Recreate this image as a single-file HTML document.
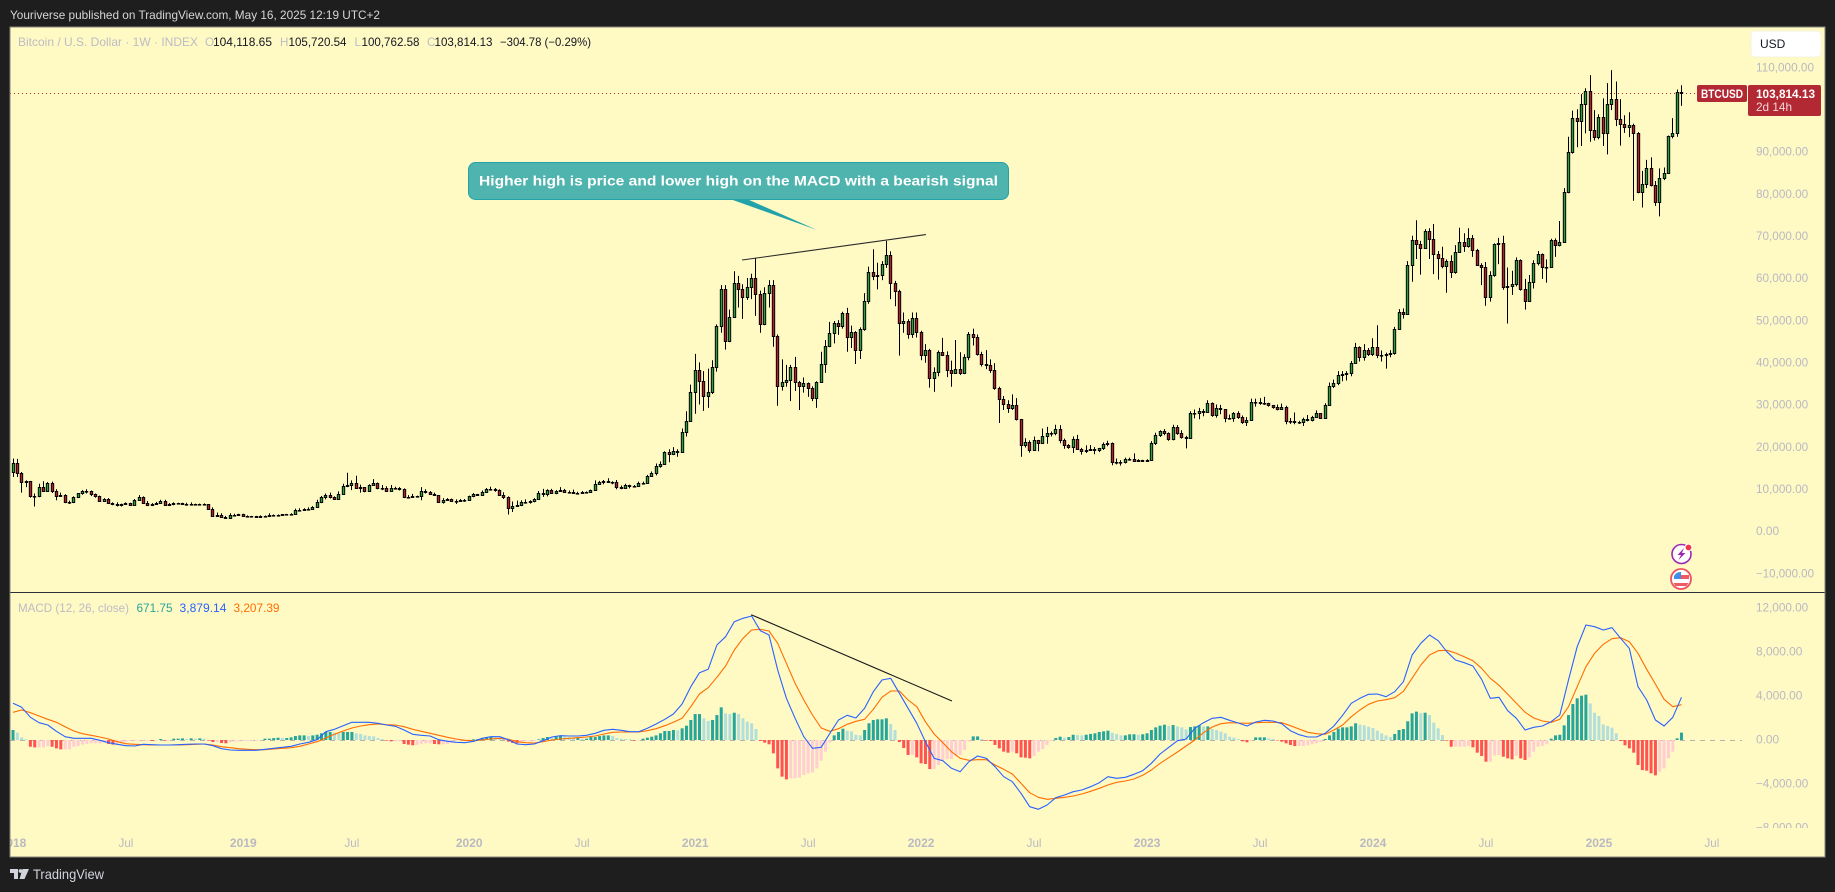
<!DOCTYPE html>
<html lang="en">
<head>
<meta charset="utf-8">
<title>BTCUSD weekly chart with MACD</title>
<style>
html,body{margin:0;padding:0;background:#1e1e1e;width:1835px;height:892px;overflow:hidden}
svg{display:block}
text{font-family:"Liberation Sans",Arial,sans-serif}
</style>
</head>
<body>
<svg id="chart" xmlns="http://www.w3.org/2000/svg" width="1835" height="892" viewBox="0 0 1835 892">
  <defs>
    <clipPath id="main-clip"><rect x="10" y="28" width="1814" height="564"/></clipPath>
    <clipPath id="macd-clip"><rect x="10" y="593" width="1814" height="235"/></clipPath>
    <clipPath id="time-clip"><rect x="10" y="828" width="1814" height="28"/></clipPath>
  </defs>
  <rect x="0" y="0" width="1835" height="892" fill="#1e1e1e"/>
  <text x="10" y="19" font-size="11.6" fill="#d6d6d6" textLength="370" lengthAdjust="spacingAndGlyphs">Youriverse published on TradingView.com, May 16, 2025 12:19 UTC+2</text>
  <rect x="10" y="27" width="1815" height="830" fill="#fff9c4"/>
  <g id="grid-layer"></g>
  <g id="macd-layer" clip-path="url(#macd-clip)"></g>
  <line x1="10" x2="1697" y1="93.5" y2="93.5" stroke="#b22833" stroke-width="1" stroke-dasharray="1 3"/>
  <g id="candle-layer" clip-path="url(#main-clip)"></g>
  <line x1="10" x2="1825" y1="592.5" y2="592.5" stroke="#2a2e39" stroke-width="1"/>
  <rect x="10" y="27" width="1815" height="830" fill="none" stroke="#85857a" stroke-width="1"/>

  <g font-size="11.6">
    <text x="18" y="46" fill="#bcbcc4" textLength="180" lengthAdjust="spacingAndGlyphs">Bitcoin / U.S. Dollar · 1W · INDEX</text>
    <text x="205" y="46" fill="#bcbcc4">O</text>
    <text x="213" y="46" fill="#131722" textLength="59" lengthAdjust="spacingAndGlyphs">104,118.65</text>
    <text x="280" y="46" fill="#bcbcc4">H</text>
    <text x="288.5" y="46" fill="#131722" textLength="58" lengthAdjust="spacingAndGlyphs">105,720.54</text>
    <text x="354.5" y="46" fill="#bcbcc4">L</text>
    <text x="361.5" y="46" fill="#131722" textLength="58" lengthAdjust="spacingAndGlyphs">100,762.58</text>
    <text x="427" y="46" fill="#bcbcc4">C</text>
    <text x="434.5" y="46" fill="#131722" textLength="58" lengthAdjust="spacingAndGlyphs">103,814.13</text>
    <text x="500" y="46" fill="#131722" textLength="91" lengthAdjust="spacingAndGlyphs">−304.78 (−0.29%)</text>
  </g>
  <g font-size="11.6">
    <text x="18" y="612" fill="#bcbcc4" textLength="111" lengthAdjust="spacingAndGlyphs">MACD (12, 26, close)</text>
    <text x="136.5" y="612" fill="#26a69a" textLength="36" lengthAdjust="spacingAndGlyphs">671.75</text>
    <text x="179.5" y="612" fill="#2962ff" textLength="47" lengthAdjust="spacingAndGlyphs">3,879.14</text>
    <text x="233.5" y="612" fill="#ff6d00" textLength="46" lengthAdjust="spacingAndGlyphs">3,207.39</text>
  </g>

  <g>
    <rect x="1751" y="31" width="70" height="26" rx="4" fill="#ffffff" stroke="#f5f3dc"/>
    <text x="1760" y="48" font-size="12" fill="#131722">USD</text>
  </g>
  <g>
    <rect x="1697" y="85" width="50" height="17" rx="2" fill="#b22833"/>
    <text x="1701" y="98" font-size="11.6" font-weight="700" fill="#ffffff" textLength="42" lengthAdjust="spacingAndGlyphs">BTCUSD</text>
    <rect x="1748" y="85" width="73" height="31" rx="2" fill="#b22833"/>
    <text x="1756" y="98" font-size="11.6" font-weight="700" fill="#ffffff" textLength="59" lengthAdjust="spacingAndGlyphs">103,814.13</text>
    <text x="1756" y="111" font-size="11.6" fill="#f4d6d8" textLength="36" lengthAdjust="spacingAndGlyphs">2d 14h</text>
  </g>

  <g>
    <polygon points="730,199 747,199 817,230" fill="#22a3a9"/>
    <rect x="468.5" y="162.5" width="540" height="37" rx="7" fill="#4fb3ae" stroke="#22a3a9"/>
    <text x="479" y="185.5" font-size="14" font-weight="700" fill="#ffffff" textLength="519" lengthAdjust="spacingAndGlyphs">Higher high is price and lower high on the MACD with a bearish signal</text>
  </g>

  <g>
    <circle cx="1681.5" cy="554" r="9.5" fill="#ffffff" stroke="#9c27b0" stroke-width="1.6"/>
    <polygon points="1684,548 1677.5,555 1681,555 1678.5,560 1685.5,553 1682,553" fill="#9c27b0"/>
    <circle cx="1688.5" cy="547.5" r="3.4" fill="#f23645" stroke="#ffffff" stroke-width="1"/>
  </g>
  <g>
    <circle cx="1681" cy="579" r="10" fill="#ffffff" stroke="#f0525f" stroke-width="1.8"/>
    <rect x="1681" y="575" width="8" height="4" fill="#ee5a60"/>
    <path d="M1673.5 583h15l-2 3h-11z" fill="#ee5a60"/>
    <path d="M1674 579v-3a7 7 0 0 1 7-4v7z" fill="#3f8ee8"/>
  </g>

  <g>
    <path d="M10 869h8v10h-4v-6h-4z M22.5 869h6.5l-4.5 10h-5z" fill="#d1d4dc"/>
    <circle cx="20.5" cy="871" r="1.9" fill="#d1d4dc"/>
    <text x="33" y="879" font-size="14" fill="#d1d4dc" textLength="71" lengthAdjust="spacingAndGlyphs">TradingView</text>
  </g>
</svg>
<script>
// Weekly candles, thousands of USD; bar 0 = week of 1 Jan 2018. Each open is the prior close.
const firstOpen = 13.9;
const candleClose = [
16.1,13.8,11.6,11.8,8.2,8.2,10.4,9.6,11.5,9.5,
8.2,8.5,6.9,6.9,8,8.9,9.4,9.6,8.7,8.2,
7.2,7.5,6.6,6.5,6.1,6.4,6.55,6.2,7.4,8,
6.7,6.1,6.3,6.7,7.2,6.2,6.4,6.6,6.55,6.45,
6.3,6.45,6.4,6.4,6.35,5.3,3.6,3.85,3.3,3.1,
3.85,3.85,4,3.55,3.6,3.55,3.4,3.65,3.65,3.8,
3.8,3.9,4,4,4.1,5.05,5.05,5.3,5.2,5.75,
6.9,8,8.5,8,7.7,8.8,10.7,11,11.4,10.2,
10.4,9.5,11,11.45,10.1,10.2,9.6,10.3,10.3,10,
8,8.1,8.3,8.2,9.5,9.3,8.8,8.5,6.9,7.4,
7.5,7.1,7.2,7.3,7.4,8.2,8.7,8.6,9.35,9.9,
9.9,9.7,8.55,8,5.4,5.9,6.2,6.8,6.9,7.1,
7.7,8.9,8.75,9.7,8.9,9.45,9.65,9.3,9.3,9,
9.1,9.3,9.2,9.7,11.1,11.6,11.9,11.7,11.7,10.4,
10.3,10.9,10.7,10.6,11.3,11.5,13,13.8,15.5,16,
18.7,18.2,19,18.8,23.5,26.1,33,38.2,35.6,32,
33,38.8,48.6,57.3,45,50.8,58.7,57.3,55.6,57.9,
59.9,56.1,49,56.4,58.3,46.3,34.5,35.4,35.8,38.8,
35.4,34.5,35,34,31.6,35.3,39.7,43.9,46.9,49.3,
48.5,51.6,45.9,47.1,43,48,54.5,61.3,60.5,60.8,
63.2,65.4,58.7,57,49.3,49.9,46.6,50.6,47.1,41.7,
42.9,36.2,37.8,42.4,41.8,38.2,37.5,38.3,37.5,41.2,
46.7,46.1,41.9,39.5,39.3,38.2,33.8,31.2,30,29.2,
29.9,26.5,20.5,21,19.3,21.6,20.8,22.6,23.3,23.2,
24.3,21.5,20.3,20,21.8,19.4,18.9,19.3,19.4,19.3,
19.6,20.6,20.9,16.3,16.3,16.4,17.1,17.1,16.7,16.8,
16.6,16.9,20.9,22.7,23.7,23.3,21.8,24.6,23.2,22.4,
22.1,27.9,27.9,28.4,28.3,30.3,27.6,29.2,28.9,26.8,
26.7,28.1,27.1,25.9,26.3,30.5,30.6,30.3,30.3,29.8,
29.3,29,29.3,26,26,25.9,25.8,26.6,26.3,27,
27.9,26.9,29.9,34.5,35,37,37.2,37.4,39.8,43.6,
41.2,42.9,42,43.7,41.7,41.7,41.9,42.3,48,51.9,
51.5,63.1,69,68.1,67,71.1,69.2,65.6,64.8,62.9,
64,61.3,66.1,68.5,67.5,69.4,66.6,63,62.5,55.6,
60.6,68,68.2,57.9,58,58.6,64.2,57.3,54.6,59,
63.5,65.6,62.7,62.7,69,67.8,68.6,80.3,89.8,97.9,
97.2,101.2,104.3,95.1,93.5,98.1,94.3,101.2,102.4,97.6,
96.4,95.9,96.2,94.3,80.5,82.4,86,82,78.1,83.6,
85,93.6,94.3,104,103.8];
const candleHigh = [
17.2,17.1,14,12,11.9,8.9,11.2,11.8,11.6,11.7,
9.9,9.1,8.7,7.2,8.2,8.9,9.7,9.9,9.6,8.9,
8.4,7.8,7.8,6.8,6.8,6.5,6.8,6.7,7.6,8.5,
8.2,7.1,6.6,6.9,7.4,7.4,6.6,6.8,6.7,6.7,
6.7,6.8,6.5,6.5,6.55,6.4,5.6,4.4,4.2,3.6,
4.2,4.1,4.1,4.1,3.7,3.6,3.6,3.7,3.7,4.2,
3.9,3.95,4,4.05,4.2,5.3,5.4,5.4,5.6,5.9,
7.4,8.3,8.9,9.1,8.2,9.4,11.2,13.8,12,13.1,
11,10.4,11.1,12.3,11.5,10.9,10.6,10.9,10.5,10.4,
10.1,8.5,8.8,8.4,10.4,9.9,9.5,9.1,8.5,7.8,
7.8,7.7,7.5,7.6,7.6,8.4,9,8.8,9.6,10.2,
10.5,10.2,9.9,9.2,8.2,7,7.2,7.3,7.5,7.3,
7.8,9.5,10,9.9,10,9.7,10.4,10,9.6,9.8,
9.3,9.5,9.4,9.8,12,11.9,12.1,12.5,11.8,12.1,
10.8,11.2,11,10.9,11.7,11.7,13.3,14.1,16,16.5,
18.9,19.4,19.9,19.4,24.3,28.4,34.7,42,40,37.9,
38.5,40.5,49,58.3,58.3,52.5,61.6,60.5,58.5,60,
61,64.8,57,57.8,59.5,59.5,46.6,40.7,39.4,39.4,
41.3,35.6,36.4,35.2,34.3,35.5,42.5,45.3,49.6,49.8,
50,52,52.9,48.7,47.4,48.3,56.4,62.7,66.8,63.6,
64,68.8,66.3,59.3,57.2,51.8,50.2,51.8,51.8,47.5,
44.3,43.2,38.8,42.8,45.8,42.6,40.4,45.3,42.4,41.9,
47.2,48,46.6,42.5,42.9,40.7,39.8,34.2,32,31,
32.4,31.5,26.6,22,21.5,22.4,21.6,24.3,24.7,23.6,
25.2,25.1,21.9,20.6,22.4,22.8,19.7,20.3,20.4,19.9,
19.7,21,21.4,21,17.2,16.8,17.4,17.4,18.4,17,
16.9,17,21.3,23.3,23.9,24.2,23.4,25.2,25.1,23.9,
22.6,28.4,28.8,29.2,28.9,31,30.5,30,29.9,28.9,
27.6,28.2,28.4,27.4,27,31.4,31.4,31.5,31.8,30.4,
29.9,30,30.2,29.7,26.8,28.1,26.1,26.9,27.5,27.3,
28.6,27.9,30.3,35.2,35.9,37.9,37.9,37.9,40.3,44.6,
43.8,44.3,43.4,45.7,48.8,42.8,42.3,42.9,48.4,52.6,
52.8,64,70,73.7,68.8,71.6,71.8,72.8,66.4,67.4,
64.4,65.4,67.8,71.9,70.6,71.8,70.2,66.9,63.5,63.8,
61.6,68.2,69.5,70,62.5,61.7,64.9,64.4,59.8,60.7,
64.2,66.4,65.8,64.4,69.3,69.4,73.5,81.3,93.5,99.7,
100,103.6,105,108.1,99.8,98.8,102.6,106.2,109.3,106.6,
102.4,98.6,99.3,96.6,94.6,85.4,88,88.6,83,86,
86.2,93.8,97.9,104.7,105.7];
const candleLow = [
12.8,12.8,9.1,10.4,7.9,5.8,8,9.3,9.4,9,
7.3,8.2,6.6,6.4,6.6,7.8,8.6,8.9,8.3,7.9,
7.1,7,6.5,6.1,5.8,5.8,6.3,6.1,6.2,7.4,
6.6,5.9,5.9,6.2,6.7,6.1,6.2,6.1,6.3,6.4,
6,6.3,6.35,6.3,6.3,5.2,3.5,3.6,3.2,3.1,
3.2,3.5,3.6,3.5,3.5,3.5,3.4,3.4,3.6,3.6,
3.7,3.7,3.8,3.9,3.9,4.1,4.9,5,5,5.1,
5.6,6.6,7.5,7.7,7.4,7.7,8.8,10.4,9.7,10,
9.1,9.2,9.4,11,9.9,9.7,9.3,9.6,9.9,9.6,
7.8,7.7,7.9,7.9,7.3,8.9,8.7,8.4,6.8,6.5,
7.2,7,6.4,7,6.9,7.3,8,8.3,8.3,9.1,
9.6,9.3,8.4,7.6,3.9,4.5,5.9,5.9,6.5,6.5,
6.8,7.6,8.1,8.2,8.8,8.7,9.3,9,8.9,8.9,
8.9,9,9,9.1,9.7,11,11.1,11.4,11.1,9.9,
9.9,10.2,10.1,10.4,10.5,11.2,11.4,12.8,13.2,15,
15.8,16.3,18,17.6,18.8,22.4,26,27.8,30,28.5,
29.2,32.5,37.8,47,43,44.8,50.5,53,50.3,54.8,
55,51,47,48.8,53,43.7,29.7,33.3,34.2,30.8,
33.2,28.7,32.8,31.8,30.8,29.2,35.2,37.5,43.6,44.5,
46.5,48,42.5,43.4,39.6,40.8,47.5,53.9,59.5,57.3,
59.5,62.4,55,53.3,41.6,47,45.6,45.8,45.9,40.5,
39.9,34,33,36.7,41.5,36.5,34.2,37.4,37,37.2,
40.5,44,41.6,39,38.4,37.5,33.5,25.6,28.7,28,
28.7,26.2,17.6,19.8,18.6,19.3,18.9,20.7,20.7,22.4,
22.7,20.8,19.5,19.5,18.5,19.3,18.1,18.5,19,18.2,
18.7,19.2,20.1,15.6,15.8,15.5,16,16.7,16.5,16.4,
16.4,16.5,17,20.4,22.3,22.7,21.4,21.5,22.8,21.9,
19.6,21.9,26.7,26.5,27.2,28,27.1,26.9,27.7,25.8,
26.4,25.9,26.6,25.4,24.9,26.2,29.5,29.9,29.9,29.5,
29,28.6,28.7,25.3,25.4,25.3,25.4,24.9,26,26,
27.2,26.6,26.8,29.7,33.9,34.6,35.5,35.7,36.7,39.9,
40.2,40.4,41.5,41.5,41,40.2,38.5,41.2,41.8,47.8,
50.4,51.3,59.1,64.5,60.8,66.9,64.5,60.9,59.6,62.3,
56.5,60,61,66,66.2,67.2,65,62.9,58.3,53.4,
54.4,60.3,63.3,57.2,49.2,56,58,57,52.5,54.3,
57.5,63,59.8,58.9,62.5,65,67.5,68.4,80.1,89.5,
91,91.3,94.3,92.3,92.6,92.9,91.3,89.3,99.8,96,
91.4,94.4,93.4,78.3,80.1,76.7,81.3,81.7,77.1,74.6,
83.2,84.8,93.1,93.5,100.8];

// MACD line and signal line, USD, read at every second weekly bar (bars 0, 2, 4 ... 384).
const macdLine = [
3333,2969,2060,1576,1364,788,303,152,152,152,
-30,-242,-394,-515,-545,-394,-424,-455,-455,-424,
-394,-364,-364,-515,-788,-909,-939,-939,-939,-848,
-758,-667,-576,-364,-212,30,758,970,1303,1606,
1606,1606,1515,1364,1242,909,515,424,364,30,
-121,-212,-242,-121,152,303,303,30,-364,-424,
-364,-61,273,394,364,364,424,606,879,970,
879,758,758,1061,1454,1879,2363,3272,4848,6121,
6424,8636,9393,10757,11060,11272,9938,9545,6363,3788,
1970,303,-758,-667,606,1818,2242,2000,2879,4394,
5454,5606,4242,2879,1515,-152,-1667,-1879,-2576,-2879,
-1970,-1454,-1667,-2424,-3333,-3788,-4848,-6060,-6302,-5909,
-5242,-5000,-4697,-4545,-4242,-3878,-3333,-3485,-3394,-3121,
-2788,-2121,-1273,-667,-61,91,1061,1576,1970,2060,
1788,1545,1273,1636,1788,1727,1485,848,485,273,
273,606,1273,2242,3333,3788,4151,4181,3939,4394,
5303,7727,8787,9545,9030,8030,7272,7030,6727,5515,
3788,3878,2667,1970,909,1151,1273,1667,2273,5454,
8484,10454,10302,9999,10211,9242,8333,4848,3636,1818,
1273,2060,3879];
const signalLine = [
2515,2727,2485,2182,1879,1606,1212,818,576,424,
273,91,-152,-333,-394,-424,-455,-455,-455,-455,
-424,-394,-364,-455,-606,-697,-788,-848,-879,-879,
-818,-758,-697,-576,-364,-152,182,515,818,1091,
1273,1394,1454,1394,1364,1212,970,788,606,424,
242,91,-30,-61,0,91,152,61,-152,-242,
-273,-152,0,91,152,212,273,364,545,697,
727,727,727,848,1030,1303,1606,1970,3030,4181,
4757,5696,6727,8181,9242,9999,10060,9908,8787,6969,
5151,3636,2273,1091,788,1030,1424,1697,1879,2788,
3878,4454,4454,3636,3030,1667,545,-242,-1060,-1667,
-1848,-1788,-1788,-2273,-2667,-3091,-3939,-4788,-5212,-5394,
-5303,-5212,-5091,-4909,-4667,-4394,-4091,-3848,-3727,-3545,
-3212,-2727,-2121,-1606,-1091,-545,0,667,1182,1485,
1576,1545,1515,1576,1606,1606,1576,1303,1000,697,
576,515,909,1364,2121,2727,3242,3545,3666,3848,
4424,5606,6818,7727,8121,8151,7908,7575,7211,6515,
5606,4969,4151,3333,2515,2000,1727,1606,1879,3030,
4848,6666,7878,8696,9211,9302,8939,7878,6424,5090,
3697,3030,3207];
const lineSampleStep = 2;

// MACD histogram, USD, one value per weekly bar.
const histogram = [
910,670,240,60,-610,-670,-670,-670,-550,-610,
-760,-850,-850,-850,-610,-550,-420,-360,-300,-300,
-300,-240,-360,-420,-420,-300,-180,-90,-90,-60,
-60,-60,-90,-30,90,-60,-30,120,120,150,
90,150,120,150,120,-60,-180,-180,-270,-300,
-210,-150,-120,-90,-90,-90,-60,-30,120,120,
180,210,180,180,240,360,420,420,360,420,
480,610,730,730,670,610,730,730,730,610,
550,420,360,330,180,90,-60,-120,-120,-120,
-360,-420,-480,-450,-330,-300,-300,-360,-390,-390,
-360,-240,-90,-30,-60,-30,60,90,150,240,
300,240,150,90,-150,-270,-300,-150,-120,-120,
-90,60,180,270,240,300,360,300,240,180,
180,120,120,270,270,360,420,420,360,180,
120,90,60,-60,-30,120,210,300,420,610,
820,820,910,880,1060,1300,1820,2360,2360,1970,
1730,1820,2270,2970,2420,2360,2480,2360,1970,1670,
1520,1000,-90,-240,-390,-1210,-2580,-3330,-3580,-3480,
-3480,-3420,-3180,-3030,-2940,-2580,-1880,-1060,-240,420,
730,1030,850,790,480,420,910,1520,1820,1880,
1880,1970,1450,910,-180,-730,-1360,-1360,-1580,-2120,
-2180,-2640,-2640,-2270,-1820,-1730,-1730,-1450,-1360,-910,
-120,330,330,90,-60,-90,-450,-760,-1060,-1150,
-1060,-1210,-1580,-1610,-1670,-1450,-1060,-820,-450,-90,
180,300,210,270,480,450,420,480,550,610,
730,790,850,670,550,420,420,520,520,480,
520,610,910,1150,1300,1390,1270,1360,1240,1150,
970,1180,1240,1330,1240,1240,1000,910,760,610,
300,210,90,-120,-210,-60,240,240,240,150,
90,-30,-150,-300,-450,-550,-550,-550,-480,-390,
-300,-180,90,420,730,1030,1150,1150,1240,1520,
1390,1330,1210,1090,850,610,420,270,550,910,
1000,1700,2420,2580,2450,2480,2270,1580,1060,450,
-60,-610,-610,-610,-610,-550,-670,-1150,-1450,-1970,
-1970,-1420,-1360,-1520,-1670,-1760,-1450,-1670,-1820,-1580,
-1060,-610,-520,-390,120,420,480,1330,2270,3270,
3790,4030,4120,3330,2480,2180,1420,1270,1120,610,
-90,-480,-760,-1150,-2270,-2730,-2790,-3030,-3210,-2880,
-2580,-1670,-1060,150,672];

// Axis ticks.
const priceTicks = [110000,90000,80000,70000,60000,50000,40000,30000,20000,10000,0,-10000];
const macdTicks = [12000,8000,4000,0,-4000,-8000];
const timeLabels = ["2018","Jul","2019","Jul","2020","Jul","2021","Jul","2022","Jul","2023","Jul","2024","Jul","2025","Jul"];
const timeLabelBars = [0,26,53,78,105,131,157,183,209,235,261,287,313,339,365,391];

// Drawn trend lines: bar index and value at each end.
const priceTrendBars = [167.8,210.1];
const priceTrendValues = [64.26,70.3];
const macdTrendBars = [169.9,216.1];
const macdTrendValues = [11390,3545];

const SVG_NS = "http://www.w3.org/2000/svg";
function barX(i){ return 13 + i * 4.345; }
function priceY(k){ return 531 - k * 4.217; }
function macdY(v){ return 740 - v * 0.011; }
function fmt(v){
  const s = Math.abs(v).toFixed(2).replace(/\B(?=(\d{3})+(?!\d))/g, ",");
  return (v < 0 ? "\u2212" : "") + s;
}
function make(tag, attrs, parent){
  const el = document.createElementNS(SVG_NS, tag);
  for (const k in attrs) el.setAttribute(k, attrs[k]);
  parent.appendChild(el);
  return el;
}

const grid = document.getElementById("grid-layer");
const candles = document.getElementById("candle-layer");
const macdLayer = document.getElementById("macd-layer");
const axisColor = "#b9b9c2";

// Price axis
priceTicks.forEach(function(t){
  const el = make("text", {x:1756, y:priceY(t/1000)+4.2, "font-size":11.6, fill:axisColor, textLength: String(fmt(t)).length*5.8, lengthAdjust:"spacingAndGlyphs"}, grid);
  
  
  el.textContent = fmt(t);
});
// MACD axis
const macdAxisGroup = make("g", {"clip-path":"url(#macd-clip)"}, grid);


macdTicks.forEach(function(t){
  const el = make("text", {x:1756, y:macdY(t)+3.6, "font-size":11.6, fill:axisColor, textLength: String(fmt(t)).length*5.8, lengthAdjust:"spacingAndGlyphs"}, macdAxisGroup);
  
  
  el.textContent = fmt(t);
});
// Time axis
const timeAxisGroup = make("g", {"clip-path":"url(#time-clip)"}, grid);


timeLabels.forEach(function(label, n){
  const isYear = label !== "Jul";
  const el = make("text", {x:barX(timeLabelBars[n]), y:847, "font-size":isYear?12:11.6, "font-weight":isYear?700:400, "text-anchor":"middle", fill:axisColor}, timeAxisGroup);
  
  
  el.textContent = label;
});

// Zero line
const zero = make("line", {x1:10, x2:1742, y1:macdY(0)+0.5, y2:macdY(0)+0.5, stroke:"#b4b4ac", "stroke-width":1, "stroke-dasharray":"5 5"}, macdLayer);



// Histogram
histogram.forEach(function(v, i){
  const prev = i > 0 ? histogram[i-1] : v;
  let color;
  if (v >= 0) color = v >= prev ? "#26a69a" : "#b2dfdb";
  else color = v < prev ? "#ff5252" : "#ffcdd2";
  const y0 = macdY(0), y1 = macdY(v);
  const bar = make("rect", {x:barX(i)-1.5, y:Math.min(y0,y1), width:3, height:Math.max(Math.abs(y1-y0),0.5), fill:color}, macdLayer);
  
  
});

// MACD and signal lines
function linePoints(values){
  return values.map(function(v, k){ return barX(k*lineSampleStep).toFixed(1) + "," + macdY(v).toFixed(1); }).join(" ");
}
const sig = make("polyline", {points:linePoints(signalLine), fill:"none", stroke:"#ff6d00", "stroke-width":1.1, "stroke-linejoin":"round"}, macdLayer);


const mline = make("polyline", {points:linePoints(macdLine), fill:"none", stroke:"#2962ff", "stroke-width":1.1, "stroke-linejoin":"round"}, macdLayer);


const mtrend = make("line", {x1:barX(macdTrendBars[0]), y1:macdY(macdTrendValues[0]), x2:barX(macdTrendBars[1]), y2:macdY(macdTrendValues[1]), stroke:"#1a1a1a", "stroke-width":1.1}, macdLayer);



// Candles
candleClose.forEach(function(c, i){
  const o = i === 0 ? firstOpen : candleClose[i-1];
  const h = candleHigh[i], l = candleLow[i];
  const cx = Math.floor(barX(i)) + 0.5;
  const g = make("g", {}, candles);
  
  
  const wick = make("line", {x1:cx, x2:cx, y1:priceY(h), y2:priceY(l), stroke:"#000000", "stroke-width":1}, g);
  
  
  const top = Math.round(priceY(Math.max(o,c))) + 0.5;
  const bottom = Math.round(priceY(Math.min(o,c))) + 0.5;
  const body = make("rect", {x:cx-1.2, y:top, width:2.4, height:Math.max(bottom-top,0.6), fill:c>=o?"#2e9e3e":"#b2202e", stroke:"#000000", "stroke-width":0.95}, g);
  
  
});

const ptrend = make("line", {x1:barX(priceTrendBars[0]), y1:priceY(priceTrendValues[0]), x2:barX(priceTrendBars[1]), y2:priceY(priceTrendValues[1]), stroke:"#2a2a2a", "stroke-width":1.1}, candles);


</script>
</body>
</html>
